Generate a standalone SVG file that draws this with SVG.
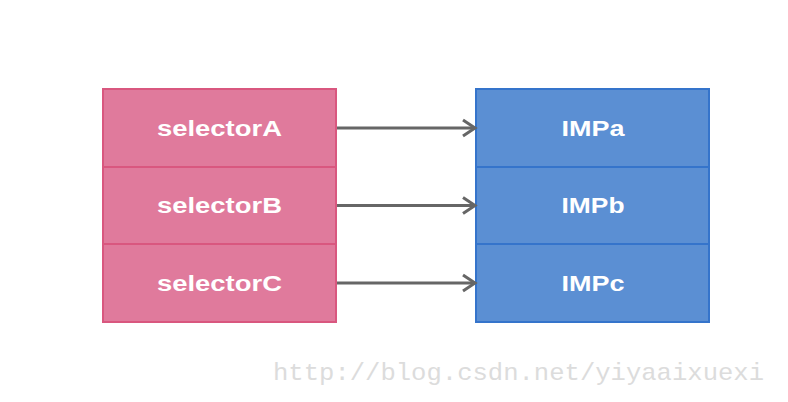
<svg xmlns="http://www.w3.org/2000/svg" width="788" height="402" viewBox="0 0 788 402">
<defs>
<style>
.sel{fill:#E07A9C;stroke:#D9577F;stroke-width:2}
.imp{fill:#5B8FD3;stroke:#3574CB;stroke-width:2}
.lbl{font-family:"Liberation Sans",Arial,sans-serif;font-weight:bold;font-size:22px;fill:#fff;text-anchor:middle}
.conn{stroke:#666;stroke-width:3;fill:none}
</style>
<marker id="arr" markerUnits="userSpaceOnUse" markerWidth="16" markerHeight="20" refX="13" refY="10" orient="auto">
<path d="M1,2 L13,10 L1,18" fill="none" stroke="#666" stroke-width="3"/>
</marker>
</defs>
<rect width="788" height="402" fill="#fff"/>
<g id="selectorA"><rect class="sel" x="103" y="89" width="233" height="78"/><text class="lbl" x="219.5" y="136" textLength="125" lengthAdjust="spacingAndGlyphs">selectorA</text></g>
<g id="selectorB"><rect class="sel" x="103" y="167" width="233" height="77"/><text class="lbl" x="219.5" y="213" textLength="125" lengthAdjust="spacingAndGlyphs">selectorB</text></g>
<g id="selectorC"><rect class="sel" x="103" y="244" width="233" height="78"/><text class="lbl" x="219.5" y="291" textLength="125" lengthAdjust="spacingAndGlyphs">selectorC</text></g>
<g id="IMPa"><rect class="imp" x="476" y="89" width="233" height="78"/><text class="lbl" x="593" y="136" textLength="63" lengthAdjust="spacingAndGlyphs">IMPa</text></g>
<g id="IMPb"><rect class="imp" x="476" y="167" width="233" height="77"/><text class="lbl" x="593" y="213" textLength="63" lengthAdjust="spacingAndGlyphs">IMPb</text></g>
<g id="IMPc"><rect class="imp" x="476" y="244" width="233" height="78"/><text class="lbl" x="593" y="291" textLength="63" lengthAdjust="spacingAndGlyphs">IMPc</text></g>
<g id="connectors">
<line class="conn" x1="337" y1="128" x2="475" y2="128" marker-end="url(#arr)"/>
<line class="conn" x1="337" y1="205.5" x2="475" y2="205.5" marker-end="url(#arr)"/>
<line class="conn" x1="337" y1="283" x2="475" y2="283" marker-end="url(#arr)"/>
</g>
<text x="273" y="380" font-family="Liberation Mono,monospace" font-size="24" fill="#dcdcdc" textLength="491" lengthAdjust="spacingAndGlyphs">http://blog.csdn.net/yiyaaixuexi</text>
</svg>
